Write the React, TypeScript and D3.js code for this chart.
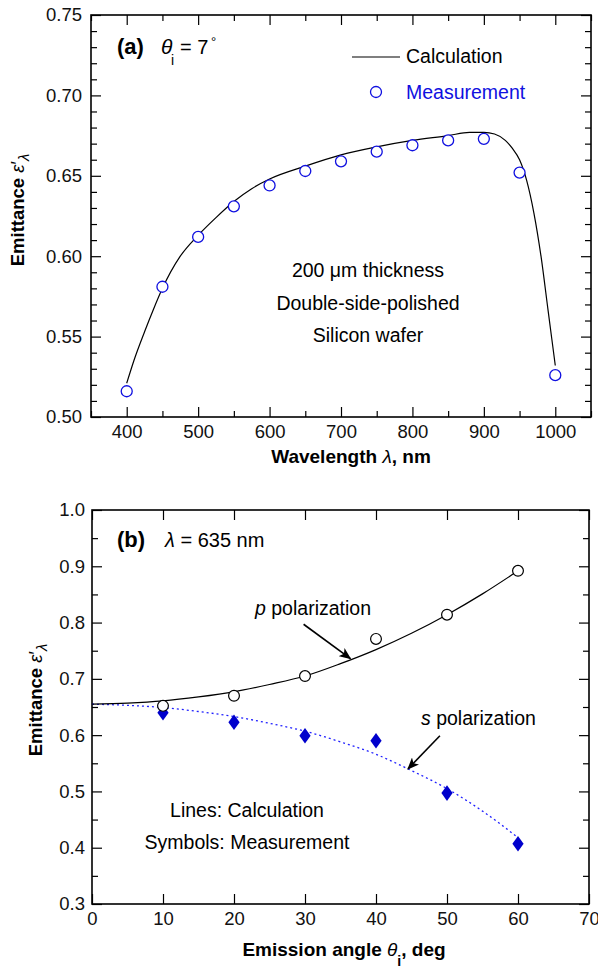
import React, { useEffect, useRef } from 'react';
import * as d3 from 'd3';

// panel (a) - spectral directional emittance, theta_i = 7 deg
const calcWavelength = [400, 410, 425, 437.5, 450, 475, 500, 525, 550, 575, 600, 650, 700, 750, 800, 850, 880, 900, 915, 930, 940, 950, 960, 970, 980, 990, 1000];
const calcEmittance = [0.521, 0.535, 0.553, 0.567, 0.580, 0.600, 0.613, 0.624, 0.634, 0.642, 0.648, 0.656, 0.663, 0.668, 0.672, 0.675, 0.677, 0.677, 0.676, 0.672, 0.667, 0.660, 0.647, 0.627, 0.600, 0.566, 0.532];
const measWavelength = [400, 450, 500, 550, 600, 650, 700, 750, 800, 850, 900, 950, 1000];
const measEmittance = [0.516, 0.581, 0.612, 0.631, 0.644, 0.653, 0.659, 0.665, 0.669, 0.672, 0.673, 0.652, 0.526];
const wavelengthTicks = [400, 500, 600, 700, 800, 900, 1000];
const emitTicksA = [0.50, 0.55, 0.60, 0.65, 0.70, 0.75];

// panel (b) - lambda = 635 nm, p and s polarization
const calcAngle = [0, 5, 10, 15, 20, 25, 30, 35, 40, 45, 50, 55, 60];
const pCalc = [0.655, 0.657, 0.661, 0.668, 0.677, 0.690, 0.705, 0.727, 0.752, 0.781, 0.814, 0.851, 0.892];
const sCalc = [0.655, 0.653, 0.649, 0.642, 0.633, 0.621, 0.607, 0.588, 0.566, 0.537, 0.505, 0.465, 0.418];
const measAngle = [10, 20, 30, 40, 50, 60];
const pMeas = [0.652, 0.670, 0.705, 0.771, 0.814, 0.892];
const sMeas = [0.640, 0.623, 0.599, 0.590, 0.497, 0.407];
const angleTicks = [0, 10, 20, 30, 40, 50, 60, 70];
const emitTicksB = [0.3, 0.4, 0.5, 0.6, 0.7, 0.8, 0.9, 1.0];

const FONT = '"Liberation Sans", Arial, Helvetica, sans-serif';
const BLUE = '#1010e0';

function drawAxes(g, x, y, xMajor, xMinor, yMajor, yMinor, xFmt, yFmt, yPad) {
  const [x0, x1] = x.range();
  const [y1, y0] = y.range();
  const blank = () => '';

  g.append('g').attr('transform', `translate(0,${y1})`)
    .call(d3.axisBottom(x).tickValues(xMajor).tickSize(-10).tickSizeOuter(0).tickPadding(8).tickFormat(xFmt));
  g.append('g').attr('transform', `translate(0,${y0})`)
    .call(d3.axisTop(x).tickValues(xMajor).tickSize(-10).tickSizeOuter(0).tickFormat(blank));
  g.append('g').attr('transform', `translate(${x0},0)`)
    .call(d3.axisLeft(y).tickValues(yMajor).tickSize(-10).tickSizeOuter(0).tickPadding(yPad).tickFormat(yFmt));
  g.append('g').attr('transform', `translate(${x1},0)`)
    .call(d3.axisRight(y).tickValues(yMajor).tickSize(-10).tickSizeOuter(0).tickFormat(blank));

  if (xMinor.length) {
    g.append('g').attr('transform', `translate(0,${y1})`)
      .call(d3.axisBottom(x).tickValues(xMinor).tickSize(-6).tickSizeOuter(0).tickFormat(blank));
    g.append('g').attr('transform', `translate(0,${y0})`)
      .call(d3.axisTop(x).tickValues(xMinor).tickSize(-6).tickSizeOuter(0).tickFormat(blank));
  }
  g.append('g').attr('transform', `translate(${x0},0)`)
    .call(d3.axisLeft(y).tickValues(yMinor).tickSize(-6).tickSizeOuter(0).tickFormat(blank));
  g.append('g').attr('transform', `translate(${x1},0)`)
    .call(d3.axisRight(y).tickValues(yMinor).tickSize(-6).tickSizeOuter(0).tickFormat(blank));

  g.selectAll('.domain').remove();
  g.selectAll('.tick line').attr('stroke', '#000').attr('stroke-width', 1.2);
  g.selectAll('.tick text').attr('font-family', FONT).attr('font-size', 18.5).attr('fill', '#111');

  g.append('rect')
    .attr('x', x0).attr('y', y0)
    .attr('width', x1 - x0).attr('height', y1 - y0)
    .attr('fill', 'none').attr('stroke', '#000').attr('stroke-width', 1.6);
}

function yLabel(svg, tx, ty) {
  const t = svg.append('text')
    .attr('transform', `translate(${tx},${ty}) rotate(-90)`)
    .attr('text-anchor', 'middle')
    .attr('font-size', 18.5);
  t.append('tspan').attr('font-weight', 'bold').text('Emittance ');
  t.append('tspan').attr('font-style', 'italic').text('\u03b5');
  t.append('tspan').text('\u2032');
  t.append('tspan').attr('font-style', 'italic').attr('font-size', 15).attr('dy', 5).text('\u03bb');
}

const App = () => {
  const ref = useRef(null);

  useEffect(() => {
    const svg = d3.select(ref.current);
    svg.selectAll('*').remove();

    svg.append('defs').append('marker')
      .attr('id', 'arrowhead')
      .attr('viewBox', '0 0 12 10')
      .attr('refX', 11).attr('refY', 5)
      .attr('markerWidth', 12).attr('markerHeight', 10)
      .attr('markerUnits', 'userSpaceOnUse')
      .attr('orient', 'auto')
      .append('path')
      .attr('d', 'M0,0 L12,5 L0,10 L3,5 Z')
      .attr('fill', '#000');

    // ---------- panel (a) ----------
    const xa = d3.scaleLinear().domain([350, 1050]).range([91, 591]);
    const ya = d3.scaleLinear().domain([0.5, 0.75]).range([417, 15]);
    const ga = svg.append('g');

    const xMinorA = d3.range(350, 1051, 50).filter(v => v % 100 !== 0);
    const yMinorA = d3.range(50, 76).map(v => v / 100).filter(v => Math.round(v * 100) % 5 !== 0);
    drawAxes(ga, xa, ya, wavelengthTicks, xMinorA, emitTicksA, yMinorA, d3.format('d'), d3.format('.2f'), 9);

    const lineA = d3.line().x(d => xa(d[0])).y(d => ya(d[1])).curve(d3.curveMonotoneX);
    ga.append('path')
      .datum(calcWavelength.map((w, i) => [w, calcEmittance[i]]))
      .attr('d', lineA)
      .attr('fill', 'none').attr('stroke', '#000').attr('stroke-width', 1.2);

    ga.selectAll('.meas')
      .data(measWavelength.map((w, i) => [w, measEmittance[i]]))
      .enter().append('circle')
      .attr('cx', d => xa(d[0])).attr('cy', d => ya(d[1]))
      .attr('r', 5.5)
      .attr('fill', '#fff').attr('stroke', BLUE).attr('stroke-width', 1.3);

    // header
    const ha = svg.append('g').attr('font-family', FONT);
    ha.append('text').attr('x', 117).attr('y', 54).attr('font-size', 22).attr('font-weight', 'bold').text('(a)');
    ha.append('text').attr('x', 161).attr('y', 54).attr('font-size', 21).attr('font-style', 'italic').text('\u03b8');
    ha.append('text').attr('x', 171).attr('y', 65).attr('font-size', 14).text('i');
    ha.append('text').attr('x', 180).attr('y', 54).attr('font-size', 20).text('= 7');
    ha.append('text').attr('x', 211).attr('y', 46).attr('font-size', 13).text('\u00b0');

    // legend
    ha.append('line').attr('x1', 352).attr('x2', 400).attr('y1', 57).attr('y2', 57)
      .attr('stroke', '#000').attr('stroke-width', 1.2);
    ha.append('text').attr('x', 406).attr('y', 63).attr('font-size', 19.5).text('Calculation');
    ha.append('circle').attr('cx', 376).attr('cy', 92).attr('r', 5.5)
      .attr('fill', '#fff').attr('stroke', BLUE).attr('stroke-width', 1.3);
    ha.append('text').attr('x', 406).attr('y', 99).attr('font-size', 19.5).attr('fill', BLUE).text('Measurement');

    const noteA = ['200 \u03bcm thickness', 'Double-side-polished', 'Silicon wafer'];
    ha.selectAll('.note')
      .data(noteA)
      .enter().append('text')
      .attr('x', 368).attr('y', (d, i) => 277 + i * 32.5)
      .attr('text-anchor', 'middle').attr('font-size', 19.5)
      .text(d => d);

    const xla = ha.append('text').attr('x', 351).attr('y', 463).attr('text-anchor', 'middle').attr('font-size', 19);
    xla.append('tspan').attr('font-weight', 'bold').text('Wavelength ');
    xla.append('tspan').attr('font-style', 'italic').text('\u03bb');
    xla.append('tspan').attr('font-weight', 'bold').text(', nm');

    yLabel(ha, 24, 210);

    // ---------- panel (b) ----------
    const xb = d3.scaleLinear().domain([0, 70]).range([92, 589]);
    const yb = d3.scaleLinear().domain([0.3, 1.0]).range([904, 510]);
    const gb = svg.append('g');

    const yMinorB = [0.35, 0.45, 0.55, 0.65, 0.75, 0.85, 0.95];
    drawAxes(gb, xb, yb, angleTicks, [], emitTicksB, yMinorB, d3.format('d'), d3.format('.1f'), 7);

    const lineB = d3.line().x(d => xb(d[0])).y(d => yb(d[1])).curve(d3.curveMonotoneX);
    gb.append('path')
      .datum(calcAngle.map((a, i) => [a, sCalc[i]]))
      .attr('d', lineB)
      .attr('fill', 'none').attr('stroke', '#2020ff').attr('stroke-width', 1.3)
      .attr('stroke-dasharray', '2,3');
    gb.append('path')
      .datum(calcAngle.map((a, i) => [a, pCalc[i]]))
      .attr('d', lineB)
      .attr('fill', 'none').attr('stroke', '#000').attr('stroke-width', 1.2);

    const diamond = d3.symbol().type(d3.symbolDiamond).size(70);
    gb.selectAll('.smeas')
      .data(measAngle.map((a, i) => [a, sMeas[i]]))
      .enter().append('path')
      .attr('d', diamond)
      .attr('transform', d => `translate(${xb(d[0])},${yb(d[1])}) scale(1.25,1.0)`)
      .attr('fill', '#0000cc');

    gb.selectAll('.pmeas')
      .data(measAngle.map((a, i) => [a, pMeas[i]]))
      .enter().append('circle')
      .attr('cx', d => xb(d[0])).attr('cy', d => yb(d[1]))
      .attr('r', 5.4)
      .attr('fill', '#fff').attr('stroke', '#000').attr('stroke-width', 1.2);

    // arrows
    gb.append('line')
      .attr('x1', xb(29.8)).attr('y1', yb(0.797))
      .attr('x2', xb(36.4)).attr('y2', yb(0.736))
      .attr('stroke', '#000').attr('stroke-width', 1.6).attr('marker-end', 'url(#arrowhead)');
    gb.append('line')
      .attr('x1', xb(49.0)).attr('y1', yb(0.599))
      .attr('x2', xb(44.5)).attr('y2', yb(0.540))
      .attr('stroke', '#000').attr('stroke-width', 1.6).attr('marker-end', 'url(#arrowhead)');

    const hb = svg.append('g').attr('font-family', FONT);
    hb.append('text').attr('x', 117).attr('y', 547).attr('font-size', 22).attr('font-weight', 'bold').text('(b)');
    const lam = hb.append('text').attr('x', 165).attr('y', 547).attr('font-size', 20);
    lam.append('tspan').attr('font-style', 'italic').text('\u03bb');
    lam.append('tspan').text(' = 635 nm');

    const pt = hb.append('text').attr('x', 255).attr('y', 615).attr('font-size', 19.5);
    pt.append('tspan').attr('font-style', 'italic').text('p');
    pt.append('tspan').text(' polarization');
    const st = hb.append('text').attr('x', 421).attr('y', 725).attr('font-size', 19.5);
    st.append('tspan').attr('font-style', 'italic').text('s');
    st.append('tspan').text(' polarization');

    hb.append('text').attr('x', 247).attr('y', 817).attr('text-anchor', 'middle').attr('font-size', 19.5).text('Lines: Calculation');
    hb.append('text').attr('x', 247).attr('y', 849).attr('text-anchor', 'middle').attr('font-size', 19.5).text('Symbols: Measurement');

    const xlb = hb.append('text').attr('x', 344).attr('y', 956).attr('text-anchor', 'middle').attr('font-size', 19);
    xlb.append('tspan').attr('font-weight', 'bold').text('Emission angle ');
    xlb.append('tspan').attr('font-style', 'italic').text('\u03b8');
    xlb.append('tspan').attr('font-weight', 'bold').attr('font-size', 14).attr('dy', 10).text('i');
    xlb.append('tspan').attr('font-weight', 'bold').attr('dy', -10).text(', deg');

    yLabel(hb, 42, 700);
  }, []);

  return (
    <svg
      ref={ref}
      width={598}
      height={971}
      style={{ position: 'absolute', left: 0, top: 0, background: '#fff', fontFamily: FONT }}
    />
  );
};

export default App;
